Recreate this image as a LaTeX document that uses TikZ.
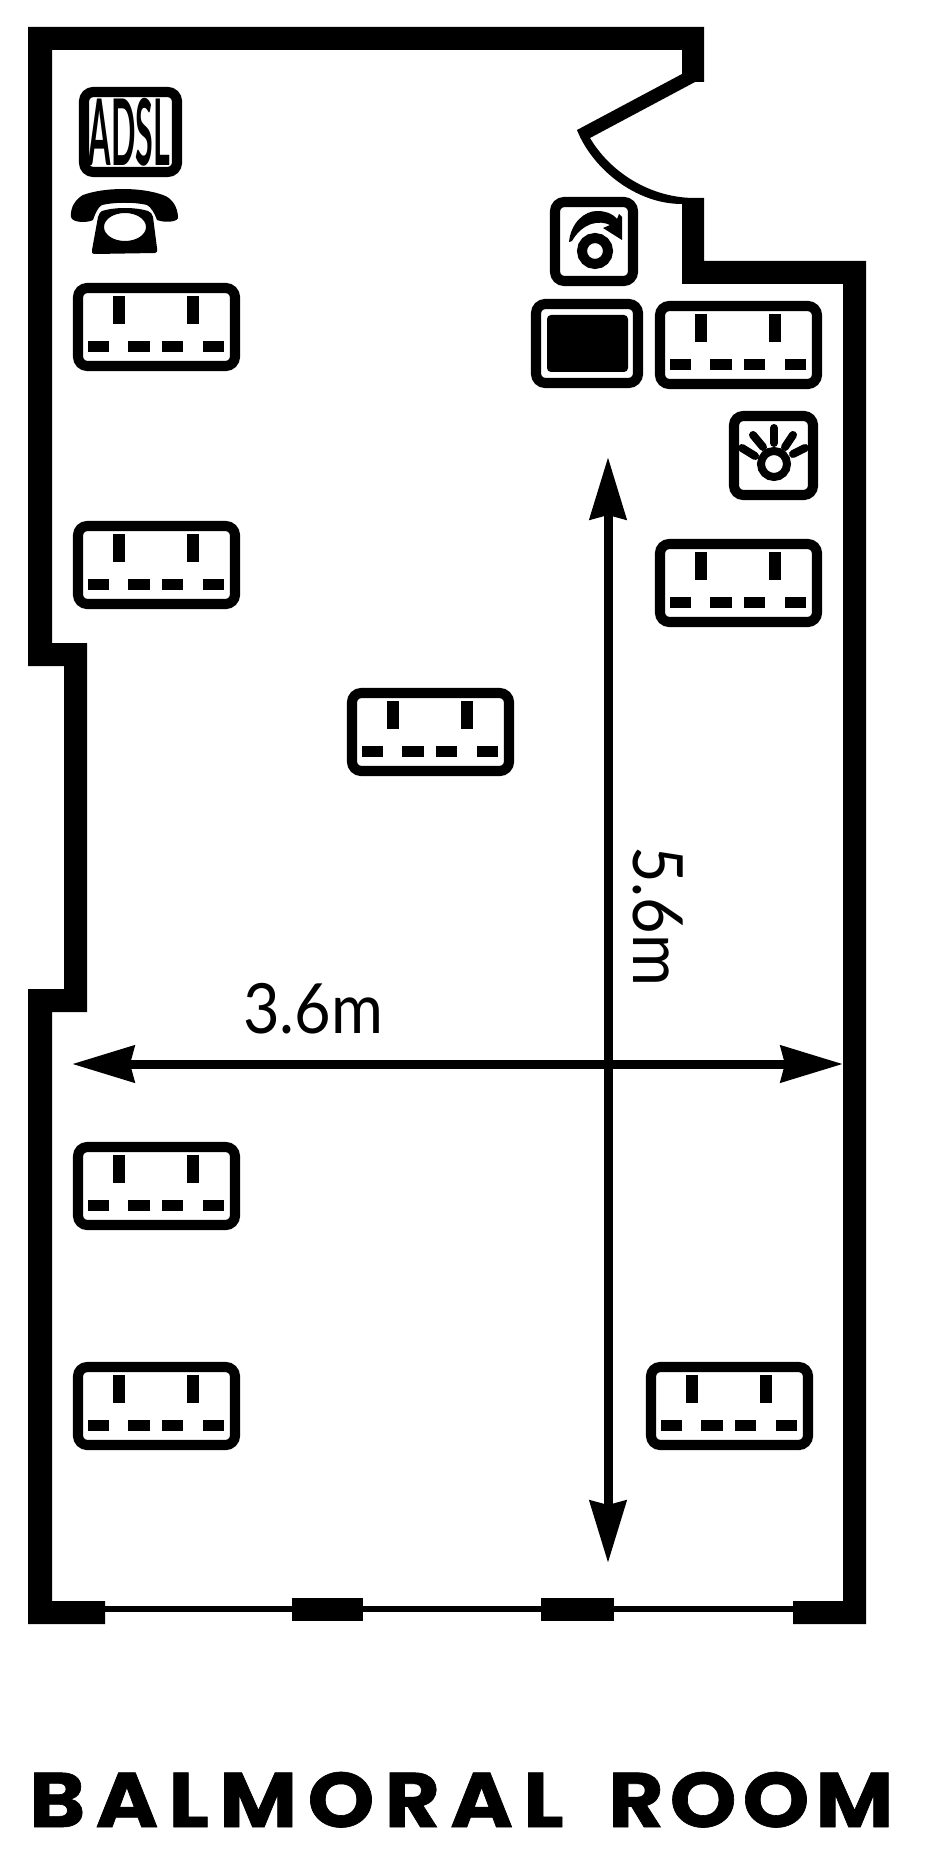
\documentclass[tikz,border=0pt]{standalone}
\usepackage{fontspec}
\usetikzlibrary{arrows.meta}
\setmainfont{Lato}
\newfontfamily\titlefontA[LetterSpace=12,FakeBold=0.8]{Poppins}
\newfontfamily\titlefontB[LetterSpace=7,FakeBold=0.8]{Poppins}
\tikzset{
  x=0.75pt,y=-0.75pt,
  wall/.style={fill=black,draw=none},
  frame/.style={draw=black,line width=7.6pt,rounded corners=7pt,fill=none},
  solid/.style={fill=black,draw=none},
  dimline/.style={draw=black,line width=6.75pt,{Stealth[length=46.5pt,width=27pt,inset=3pt]}-{Stealth[length=46.5pt,width=27pt,inset=3pt]}},
  ray/.style={draw=black,line width=6pt,line cap=round},
  socket/.pic={
    \draw[frame] (5,5) rectangle (162,83);
    \fill (40,13) rectangle (52,41);
    \fill (114,13) rectangle (126,41);
    \fill (15,58) rectangle (36,69);
    \fill (55,58) rectangle (77,69);
    \fill (89,58) rectangle (110,69);
    \fill (130,58) rectangle (151,69);
  }
}
\begin{document}
\begin{tikzpicture}
\useasboundingbox (0,0) rectangle (930,1872);
% walls and door
\path[wall] (704,27) -- (28,27) -- (28,666) -- (64,666) -- (64,989) -- (28,989) -- (28,1624)
  -- (105,1624) -- (105,1601) -- (52,1601) -- (52,1012) -- (87,1012) -- (87,643) -- (52,643)
  -- (52,50) -- (682,50) -- (682,74) -- (577,130)
  .. controls (592,168) and (635,204) .. (682,204)
  -- (682,284) -- (843,284) -- (843,1601) -- (793,1601) -- (793,1624) -- (866,1624)
  -- (866,261) -- (704,261) -- (704,198) -- (695,198)
  .. controls (650,198) and (610,172) .. (590,138)
  -- (695,82) -- (704,82) -- cycle;
% window
\fill (105,1606) rectangle (793,1612);
\fill (292,1598) rectangle (363,1621);
\fill (541,1598) rectangle (614,1621);
% sockets
\pic at (73,283) {socket};
\pic at (73,521) {socket};
\pic at (655,301) {socket};
\pic at (655,539) {socket};
\pic at (347,688) {socket};
\pic at (73,1142) {socket};
\pic at (73,1362) {socket};
\pic at (646,1362) {socket};
% ADSL
\draw[frame] (84,92) rectangle (177,172);
\node[inner sep=0pt,anchor=center,xscale=0.35,transform shape] (adsl) at (129.5,132) {\fontsize{69pt}{69pt}\selectfont\bfseries ADSL};
% telephone
\path[solid] (71,217) .. controls (70,207) and (76,199) .. (83,195) .. controls (105,187) and (141,187) .. (163,195)
  .. controls (172,198) and (178,207) .. (178,218) .. controls (177,222) and (165,223) .. (157,220)
  .. controls (155,214) and (151,207) .. (147,205) .. controls (135,202) and (115,202) .. (102,205)
  .. controls (98,207) and (95,214) .. (93,220) .. controls (88,223) and (72,223) .. (71,217) -- cycle;
\path[solid,even odd rule] (102,211) .. controls (115,207) and (135,207) .. (148,211) .. controls (151,212) and (152,214) .. (153,217)
  -- (157,248) .. controls (158,252) and (156,253) .. (155,253) -- (95,254) .. controls (92,254) and (91,252) .. (92,250)
  -- (98,217) .. controls (99,214) and (100,212) .. (102,211) -- cycle
  (125,227) ellipse [x radius=21,y radius=14];
% dial icon
\draw[frame] (555,202) rectangle (633,281);
\draw[draw=black,line width=7.5pt] (595,251) circle [radius=13];
\path[solid] (569,242) .. controls (571,222) and (585,211) .. (597,211) .. controls (605,211) and (612,213) .. (617,219)
  -- (619,214) -- (622,217) -- (622,240) -- (603,228) -- (610,225) .. controls (600,220) and (583,222) .. (572,241) -- cycle;
% screen icon
\draw[frame] (536,304) rectangle (638,383);
\path[solid,rounded corners=3pt] (547,315) rectangle (628,372);
% sun icon
\draw[frame] (734,416) rectangle (813,495);
\draw[draw=black,line width=6pt] (774,464) circle [radius=13];
\draw[ray] (774,428) -- (774,443);
\draw[ray] (753,435) -- (763,447);
\draw[ray] (793,435) -- (785,447);
\draw[ray] (742,448) -- (755,456);
\draw[ray] (805,448) -- (793,454);
% dimensions
\coordinate (hl) at (72,1064);
\coordinate (hr) at (843,1064);
\coordinate (vt) at (608,457);
\coordinate (vb) at (608,1563);
\draw[dimline] (hl) -- (hr);
\draw[dimline] (vt) -- (vb);
\node[inner sep=0pt,anchor=base west,xscale=0.91,transform shape] (w) at (243,1033) {\fontsize{52pt}{52pt}\selectfont 3.6m};
\node[inner sep=0pt,anchor=base west,rotate=-90,xscale=0.91,transform shape] (h) at (633,846) {\fontsize{52pt}{52pt}\selectfont 5.6m};
% title
\node[inner sep=0pt,anchor=base west,xscale=1.1,transform shape] (t1) at (29,1827) {\titlefontA\bfseries\fontsize{58pt}{58pt}\selectfont BALMORAL};
\node[inner sep=0pt,anchor=base west,xscale=1.1,transform shape] (t2) at (608,1827) {\titlefontB\bfseries\fontsize{58pt}{58pt}\selectfont ROOM};
\end{tikzpicture}
\end{document}
